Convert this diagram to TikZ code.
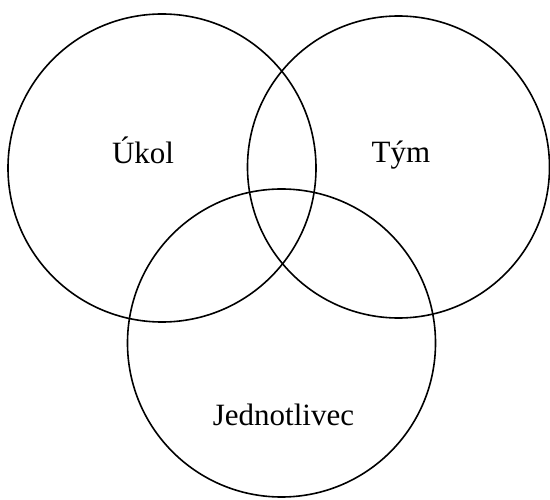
\documentclass[tikz,border=0pt]{standalone}
\usepackage{fontspec}
\setmainfont{Liberation Serif}
\begin{document}
\begin{tikzpicture}[x=1pt,y=-1pt,
  ring/.style={circle, draw=black, line width=1.6pt, inner sep=0pt, outer sep=0pt},
  lbl/.style={inner sep=0pt, anchor=base, font=\fontsize{31}{37}\selectfont}]
\useasboundingbox (0,0) rectangle (550,500);
\node[ring, minimum size=308pt] (c1) at (162,168) {};
\node[ring, minimum size=302pt] (c2) at (398.5,167) {};
\node[ring, minimum size=308pt] (c3) at (281.5,343) {};
\node[lbl] (ukol) at (143,164) {Úkol};
\node[lbl] (tym) at (401,163) {Tým};
\node[lbl] (jedn) at (283.5,425) {Jednotlivec};
\end{tikzpicture}
\end{document}
